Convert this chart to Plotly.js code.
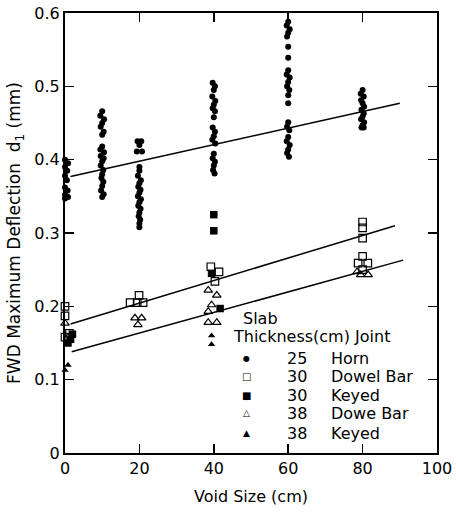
<!DOCTYPE html>
<html>
<head>
<meta charset="utf-8">
<script src="https://cdn.plot.ly/plotly-3.0.1.min.js"></script>
<style>html,body{margin:0;padding:0;background:#fff;}#chart{width:456px;height:512px;}</style>
</head>
<body>
<div id="chart"></div>
<script>
// ---- Data ----
// 25 cm slab, Horn joint (filled dots)
const hornX = [0,-0.8,0.8,0,0.6,-0.6,0,0.5,-0.5,0,0.7,-0.7,0,-0.8,0.8,0,
  10,9.5,10.5,10,9.6,10.4,10,10,9.5,10.5,9.6,10.4,10,9.6,10.3,10,9.8,10.3,10,9.7,10.4,10,
  19.5,20.5,20,19.3,20.7,20,20,19.6,20.4,20,19.7,20.3,20,19.6,20.4,20,19.7,20.3,20,19.8,20.2,20,20,
  39.7,40.3,40,39.6,40.4,40,39.7,40.3,40,39.7,40.3,40,39.6,40.4,40,39.7,40.3,40,39.8,40.2,
  60,59.6,60.4,60,59.7,60,60,60,59.6,60.4,60,59.7,60.3,60,60,60,59.7,60.3,60,59.6,60.4,60,59.7,60.2,
  80,79.5,80.3,79.6,80,80.4,79.7,80.3,80,79.6,80.4,80,79.7,80.3];
const hornY = [0.400,0.397,0.395,0.390,0.385,0.382,0.378,0.372,0.368,0.362,0.358,0.355,0.352,0.349,0.349,0.347,
  0.466,0.460,0.455,0.450,0.445,0.438,0.434,0.418,0.414,0.410,0.405,0.402,0.398,0.392,0.386,0.380,0.375,0.370,0.364,0.358,0.353,0.349,
  0.425,0.425,0.420,0.411,0.411,0.390,0.385,0.378,0.372,0.368,0.363,0.359,0.355,0.350,0.346,0.342,0.337,0.333,0.328,0.323,0.318,0.313,0.308,
  0.505,0.500,0.495,0.486,0.480,0.475,0.470,0.466,0.458,0.444,0.438,0.432,0.427,0.422,0.408,0.402,0.397,0.392,0.386,0.381,
  0.588,0.583,0.578,0.573,0.568,0.554,0.539,0.522,0.516,0.512,0.506,0.500,0.495,0.488,0.477,0.451,0.445,0.440,0.431,0.425,0.420,0.414,0.409,0.404,
  0.495,0.490,0.486,0.481,0.477,0.472,0.468,0.463,0.459,0.455,0.451,0.447,0.444,0.444];

// 30 cm slab, Dowel Bar (open squares)
const dowel30X = [0,0,-1,1.2,0,  19.9,17.5,19.4,21,  39.2,41.4,40.3,  80,80,80,80,78.8,81.4,80];
const dowel30Y = [0.200,0.187,0.165,0.163,0.158,  0.215,0.205,0.205,0.205,  0.254,0.247,0.234,  0.315,0.307,0.293,0.268,0.259,0.259,0.250];

// 30 cm slab, Keyed (filled squares)
const keyed30X = [-2,2,-0.8,1.5,-1,0.8,  40,40,39.4,41.7];
const keyed30Y = [0.162,0.162,0.155,0.155,0.146,0.150,  0.325,0.303,0.245,0.197];

// 38 cm slab, Dowel Bar (open triangles)
const dowel38X = [0,-0.8,0.8,  18.8,20.6,19.6,  38.5,40.8,39.4,38.5,38.5,40.8,  78.5,81.5,79.5];
const dowel38Y = [0.177,0.165,0.158,  0.184,0.184,0.175,  0.222,0.215,0.202,0.193,0.178,0.178,  0.247,0.243,0.243];

// 38 cm slab, Keyed (filled triangles)
const keyed38X = [-0.8,0.8,0,-0.6,  39.4,39.4];
const keyed38Y = [0.120,0.120,0.113,0.108,  0.160,0.148];

// Fitted trend lines (end points)
const hornFitX = [1.5, 90];      const hornFitY = [0.377, 0.477];
const dowel30FitX = [1.5, 88.7]; const dowel30FitY = [0.176, 0.310];
const dowel38FitX = [1.8, 90.9]; const dowel38FitY = [0.138, 0.263];

// Axis ticks
const xTicks = [0,20,40,60,80,100];
const yTicks = [0,0.1,0.2,0.3,0.4,0.5,0.6];

// Legend text
const legendThickness = ["25","30","30","38","38"];
const legendJoint = ["Horn","Dowel Bar","Keyed","Dowe Bar","Keyed"];
const legendGlyph = ["\u25CF","\u25A1","\u25A0","\u25B3","\u25B2"];

// ---- Chart ----
const FONT = "DejaVu Sans, Verdana, sans-serif";
const common = {type:'scatter', mode:'markers', cliponaxis:false, showlegend:false, hoverinfo:'skip'};
const traces = [
  Object.assign({}, common, {x:hornX, y:hornY, marker:{symbol:'circle', size:6, color:'#000'}}),
  Object.assign({}, common, {x:dowel30X, y:dowel30Y, marker:{symbol:'square-open', size:7.5, color:'#000', line:{width:1.2}}}),
  Object.assign({}, common, {x:keyed30X, y:keyed30Y, marker:{symbol:'square', size:7.5, color:'#000'}}),
  Object.assign({}, common, {x:dowel38X, y:dowel38Y, marker:{symbol:'triangle-up-open', size:7.5, color:'#000', line:{width:1.2}}}),
  Object.assign({}, common, {x:keyed38X, y:keyed38Y, marker:{symbol:'triangle-up', size:6.5, color:'#000'}}),
  {type:'scatter', mode:'lines', x:hornFitX, y:hornFitY, line:{color:'#000', width:1.5}, showlegend:false, hoverinfo:'skip'},
  {type:'scatter', mode:'lines', x:dowel30FitX, y:dowel30FitY, line:{color:'#000', width:1.5}, showlegend:false, hoverinfo:'skip'},
  {type:'scatter', mode:'lines', x:dowel38FitX, y:dowel38FitY, line:{color:'#000', width:1.5}, showlegend:false, hoverinfo:'skip'}
];

// plot area pixels: left 65, right 437, top 13, bottom 453
const L=65, R=437, T=13, B=453;
const px = v => (v - L)/(R - L);
const py = v => (B - v)/(B - T);

const annotations = [
  {text:'Slab', x:px(241), y:py(318), xanchor:'left', yanchor:'middle'},
  {text:'Thickness(cm) Joint', x:px(231), y:py(336), xanchor:'left', yanchor:'middle'}
];
const rowY = [358, 376, 395, 413, 433];
const glyphSize = [8, 10, 10, 9, 9];
for (let i = 0; i < legendJoint.length; i++) {
  annotations.push({text:legendGlyph[i], x:px(246), y:py(rowY[i]), xanchor:'center', yanchor:'middle', font:{family:FONT, size:glyphSize[i], color:'#000'}});
  annotations.push({text:legendThickness[i], x:px(285), y:py(rowY[i]), xanchor:'left', yanchor:'middle'});
  annotations.push({text:legendJoint[i], x:px(329), y:py(rowY[i]), xanchor:'left', yanchor:'middle'});
}
annotations.forEach(a => {
  a.xref='paper'; a.yref='paper'; a.showarrow=false;
  if (!a.font) a.font = {family:FONT, size:16, color:'#000'};
});

const layout = {
  width:456, height:512,
  margin:{l:L, r:456-R, t:T, b:512-B},
  paper_bgcolor:'#fff', plot_bgcolor:'#fff',
  font:{family:FONT, size:16, color:'#000'},
  xaxis:{
    range:[0,100], tickvals:xTicks, ticks:'inside', ticklen:9, tickwidth:1.5, tickcolor:'#000',
    showline:true, linewidth:2, linecolor:'#000', mirror:'ticks', showgrid:false, zeroline:false,
    tickfont:{family:FONT, size:16, color:'#000'},
    title:{text:'Void Size (cm)', font:{family:FONT, size:16, color:'#000'}, standoff:14},
    automargin:false
  },
  yaxis:{
    range:[0,0.6], tickvals:yTicks, ticks:'inside', ticklen:9, tickwidth:1.5, tickcolor:'#000',
    showline:true, linewidth:2, linecolor:'#000', mirror:'ticks', showgrid:false, zeroline:false,
    tickfont:{family:FONT, size:16, color:'#000'},
    title:{text:'FWD Maximum Deflection  d<sub>1</sub> (mm)', font:{family:FONT, size:17, color:'#000'}, standoff:9},
    automargin:false
  },
  annotations:annotations
};

Plotly.newPlot('chart', traces, layout, {staticPlot:true, displayModeBar:false});
</script>
</body>
</html>
